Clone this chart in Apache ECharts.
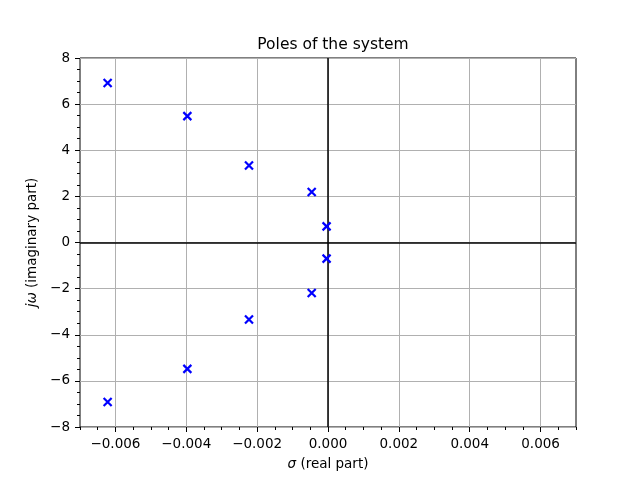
<!DOCTYPE html>
<html lang="en">
<head>
	<meta charset="UTF-8">
	<title>Poles of the system</title>
	<style>html,body{margin:0;padding:0;background:#fff;}</style>
</head>
<body>
	<div id="poles" style="width:640px;height:480px;"></div>
</body>
</html>
<script src="https://cdn.jsdelivr.net/npm/echarts@6/dist/echarts.min.js"></script>
<script>
// poles (upper half, lower half is the conjugate)
var realPart = [-0.00622, -0.00397, -0.00223, -0.00046, -0.00004];
var imagPart = [6.92, 5.48, 3.34, 2.19, 0.70];
var xTicks = [-0.006, -0.004, -0.002, 0, 0.002, 0.004, 0.006];

function minus(s){ return String(s).replace('-', '\u2212'); }

var poles = [];
for (var i = 0; i < realPart.length; i++) {
  poles.push([realPart[i], imagPart[i]]);
  poles.push([realPart[i], -imagPart[i]]);
}

var font = 'DejaVu Sans';
var chart = echarts.init(document.getElementById('poles'));

var option = {
  animation: false,
  textStyle: { fontFamily: font },
  title: {
    text: 'Poles of the system',
    left: 328,
    textAlign: 'center',
    top: 32,
    textStyle: { fontFamily: font, fontSize: 15.5, fontWeight: 'normal', color: '#000' }
  },
  grid: {
    left: 80, right: 64, top: 58, bottom: 53,
    show: true, borderColor: '#000', borderWidth: 1,
    containLabel: false
  },
  xAxis: [
    {
      type: 'value',
      position: 'bottom',
      min: -0.007, max: 0.007, interval: 0.0005,
      axisLine: { show: false, onZero: false },
      axisTick: { show: true, length: 5, customValues: xTicks, lineStyle: { color: '#000' } },
      axisLabel: {
        customValues: xTicks,
        color: '#000', fontSize: 13.5, margin: 10,
        formatter: function (v) { return minus(v.toFixed(3)); }
      },
      splitLine: { show: true, lineStyle: { color: '#b0b0b0', width: 1 } },
      name: '{i|\u03c3} (real part)',
      nameLocation: 'middle',
      nameGap: 30,
      nameTextStyle: {
        color: '#000', fontSize: 13.5,
        rich: { i: { fontStyle: 'italic', fontSize: 13.5, color: '#000' } }
      }
    },
    {
      type: 'value',
      position: 'bottom',
      min: -0.007, max: 0.007, interval: 0.0005,
      axisLine: { show: false, onZero: false },
      axisTick: { show: true, length: 3, lineStyle: { color: '#000' } },
      axisLabel: { show: false },
      splitLine: { show: false }
    }
  ],
  yAxis: {
    type: 'value',
    min: -8, max: 8, interval: 2,
    axisLine: { show: false, onZero: false },
    axisTick: { show: true, length: 5, lineStyle: { color: '#000' } },
    minorTick: { show: true, splitNumber: 4, length: 3, lineStyle: { color: '#000' } },
    axisLabel: {
      color: '#000', fontSize: 13.5, margin: 10,
      formatter: function (v) { return minus(v); }
    },
    splitLine: { show: true, lineStyle: { color: '#b0b0b0', width: 1 } },
    name: '{i|j\u03c9} (imaginary part)',
    nameLocation: 'middle',
    nameGap: 39,
    nameTextStyle: {
      color: '#000', fontSize: 13.5,
      rich: { i: { fontStyle: 'italic', fontSize: 13.5, color: '#000' } }
    }
  },
  series: [{
    type: 'scatter',
    xAxisIndex: 0,
    data: poles,
    symbol: 'path://M0,0L10,10M10,0L0,10',
    symbolSize: 8,
    itemStyle: { color: 'none', borderColor: '#0000ff', borderWidth: 2.2, opacity: 1 },
    z: 5,
    markLine: {
      silent: true,
      symbol: ['none', 'none'],
      label: { show: false },
      lineStyle: { color: '#000', width: 1.5, type: 'solid', opacity: 1 },
      data: [{ xAxis: 0 }, { yAxis: 0 }],
      z: 3
    }
  }]
};
chart.setOption(option);
</script>
